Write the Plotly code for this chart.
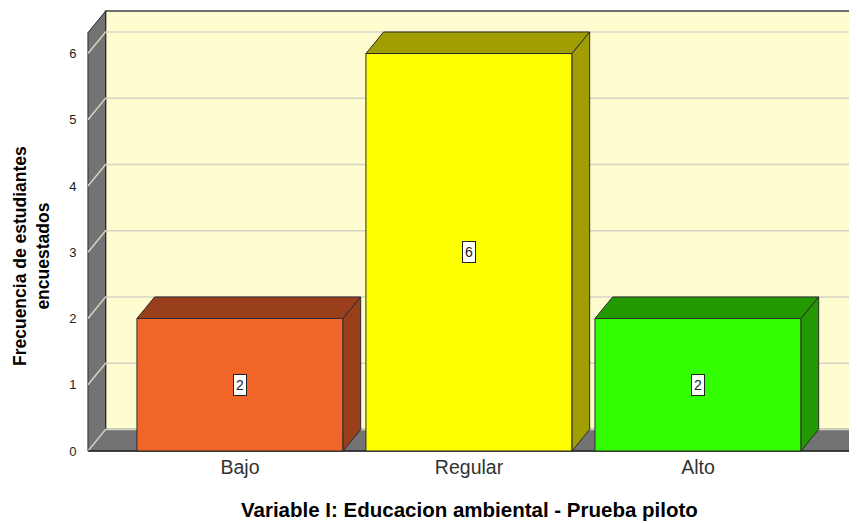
import plotly.graph_objects as go

# Data
categories = ["Bajo", "Regular", "Alto"]
counts = [2, 6, 2]
y_ticks = [0, 1, 2, 3, 4, 5, 6]

# Colours (front face / shaded top+side)
front_colors = ["#F26529", "#FFFF00", "#33FF00"]
shade_colors = ["#9A3F1C", "#A09E00", "#229900"]
WALL = "#737373"
BACK = "#FFFDD0"
EDGE = "#2B2B2B"
GRID = "#D3D3C6"
FONT = "Arial, 'Liberation Sans', sans-serif"

# 3D look
BAR_W = 0.9
DX, DY = 0.077, 0.325          # depth offset in data units
X_LEFT, X_RIGHT = -0.664, 2.664
Y_TOP = 6.64

xs = list(range(len(categories)))

fig = go.Figure()

# front faces
fig.add_trace(go.Bar(
    x=xs, y=counts, width=BAR_W,
    marker=dict(color=front_colors, line=dict(color=EDGE, width=1)),
    hovertemplate="%{y}<extra></extra>",
))

# top and side faces
for x, v, c in zip(xs, counts, shade_colors):
    l, r = x - BAR_W / 2, x + BAR_W / 2
    fig.add_trace(go.Scatter(
        x=[l, l + DX, r + DX, r, l], y=[v, v + DY, v + DY, v, v],
        mode="lines", fill="toself", fillcolor=c,
        line=dict(color=EDGE, width=1), hoverinfo="skip",
    ))
    fig.add_trace(go.Scatter(
        x=[r, r + DX, r + DX, r, r], y=[0, DY, v + DY, v, 0],
        mode="lines", fill="toself", fillcolor=c,
        line=dict(color=EDGE, width=1), hoverinfo="skip",
    ))

# walls, floor and gridlines behind the bars
shapes = [
    dict(type="rect", xref="x", yref="y", layer="below",
         x0=X_LEFT + DX, x1=X_RIGHT + DX, y0=DY, y1=Y_TOP,
         fillcolor=BACK, line=dict(color="#404040", width=1.5)),
    dict(type="path", xref="x", yref="y", layer="below",
         path=f"M {X_LEFT},0 L {X_LEFT},{Y_TOP - DY} L {X_LEFT + DX},{Y_TOP} "
              f"L {X_LEFT + DX},{DY} Z",
         fillcolor=WALL, line=dict(color=EDGE, width=1)),
    dict(type="path", xref="x", yref="y", layer="below",
         path=f"M {X_LEFT},0 L {X_LEFT + DX},{DY} L {X_RIGHT + DX},{DY} "
              f"L {X_RIGHT},0 Z",
         fillcolor=WALL, line=dict(color=EDGE, width=1)),
]
for v in y_ticks:
    shapes.append(dict(
        type="path", xref="x", yref="y", layer="below",
        path=f"M {X_LEFT},{v} L {X_LEFT + DX},{v + DY} L {X_RIGHT + DX},{v + DY}",
        line=dict(color=GRID, width=1.5),
    ))
# front axis line
shapes.append(dict(type="line", xref="x", yref="y", layer="below",
                   x0=X_LEFT, x1=X_RIGHT, y0=0, y1=0,
                   line=dict(color=EDGE, width=1.5)))

# value labels
annotations = [
    dict(x=x, y=v / 2, xref="x", yref="y", text=str(v), showarrow=False,
         bgcolor="white", bordercolor="#222", borderwidth=1, borderpad=2,
         font=dict(family=FONT, size=14, color="#222"))
    for x, v in zip(xs, counts)
]
annotations += [
    dict(x=0.4975, y=-0.128, xref="paper", yref="paper",
         text="<b>Variable I: Educacion ambiental - Prueba piloto</b>",
         showarrow=False, xanchor="center", yanchor="middle",
         font=dict(family=FONT, size=20.5, color="black")),
    dict(x=-0.070, y=0.4437, xref="paper", yref="paper",
         text="<b>Frecuencia de estudiantes<br>encuestados</b>",
         textangle=-90, showarrow=False, xanchor="center", yanchor="middle",
         font=dict(family=FONT, size=17.5, color="black")),
]

# page body has an 8px margin, so the figure is 8px smaller than the window
fig.update_layout(
    width=849, height=515,
    margin=dict(l=78, r=0, t=1, b=70),
    paper_bgcolor="white",
    plot_bgcolor="white",
    showlegend=False,
    shapes=shapes,
    annotations=annotations,
    font=dict(family=FONT),
)
fig.update_xaxes(
    range=[(86 - 240) / 229, (857 - 240) / 229],
    tickvals=xs, ticktext=categories,
    showgrid=False, zeroline=False, showline=False,
    ticks="", ticklen=0,
    tickfont=dict(family=FONT, size=19.5, color="#333"),
)
fig.update_yaxes(
    range=[-0.03, 6.672],
    tickvals=y_ticks,
    showgrid=False, zeroline=False, showline=False,
    ticks="outside", ticklen=6, tickcolor="rgba(0,0,0,0)",
    tickfont=dict(family=FONT, size=13, color="#222"),
)

fig.write_html("out.html")
